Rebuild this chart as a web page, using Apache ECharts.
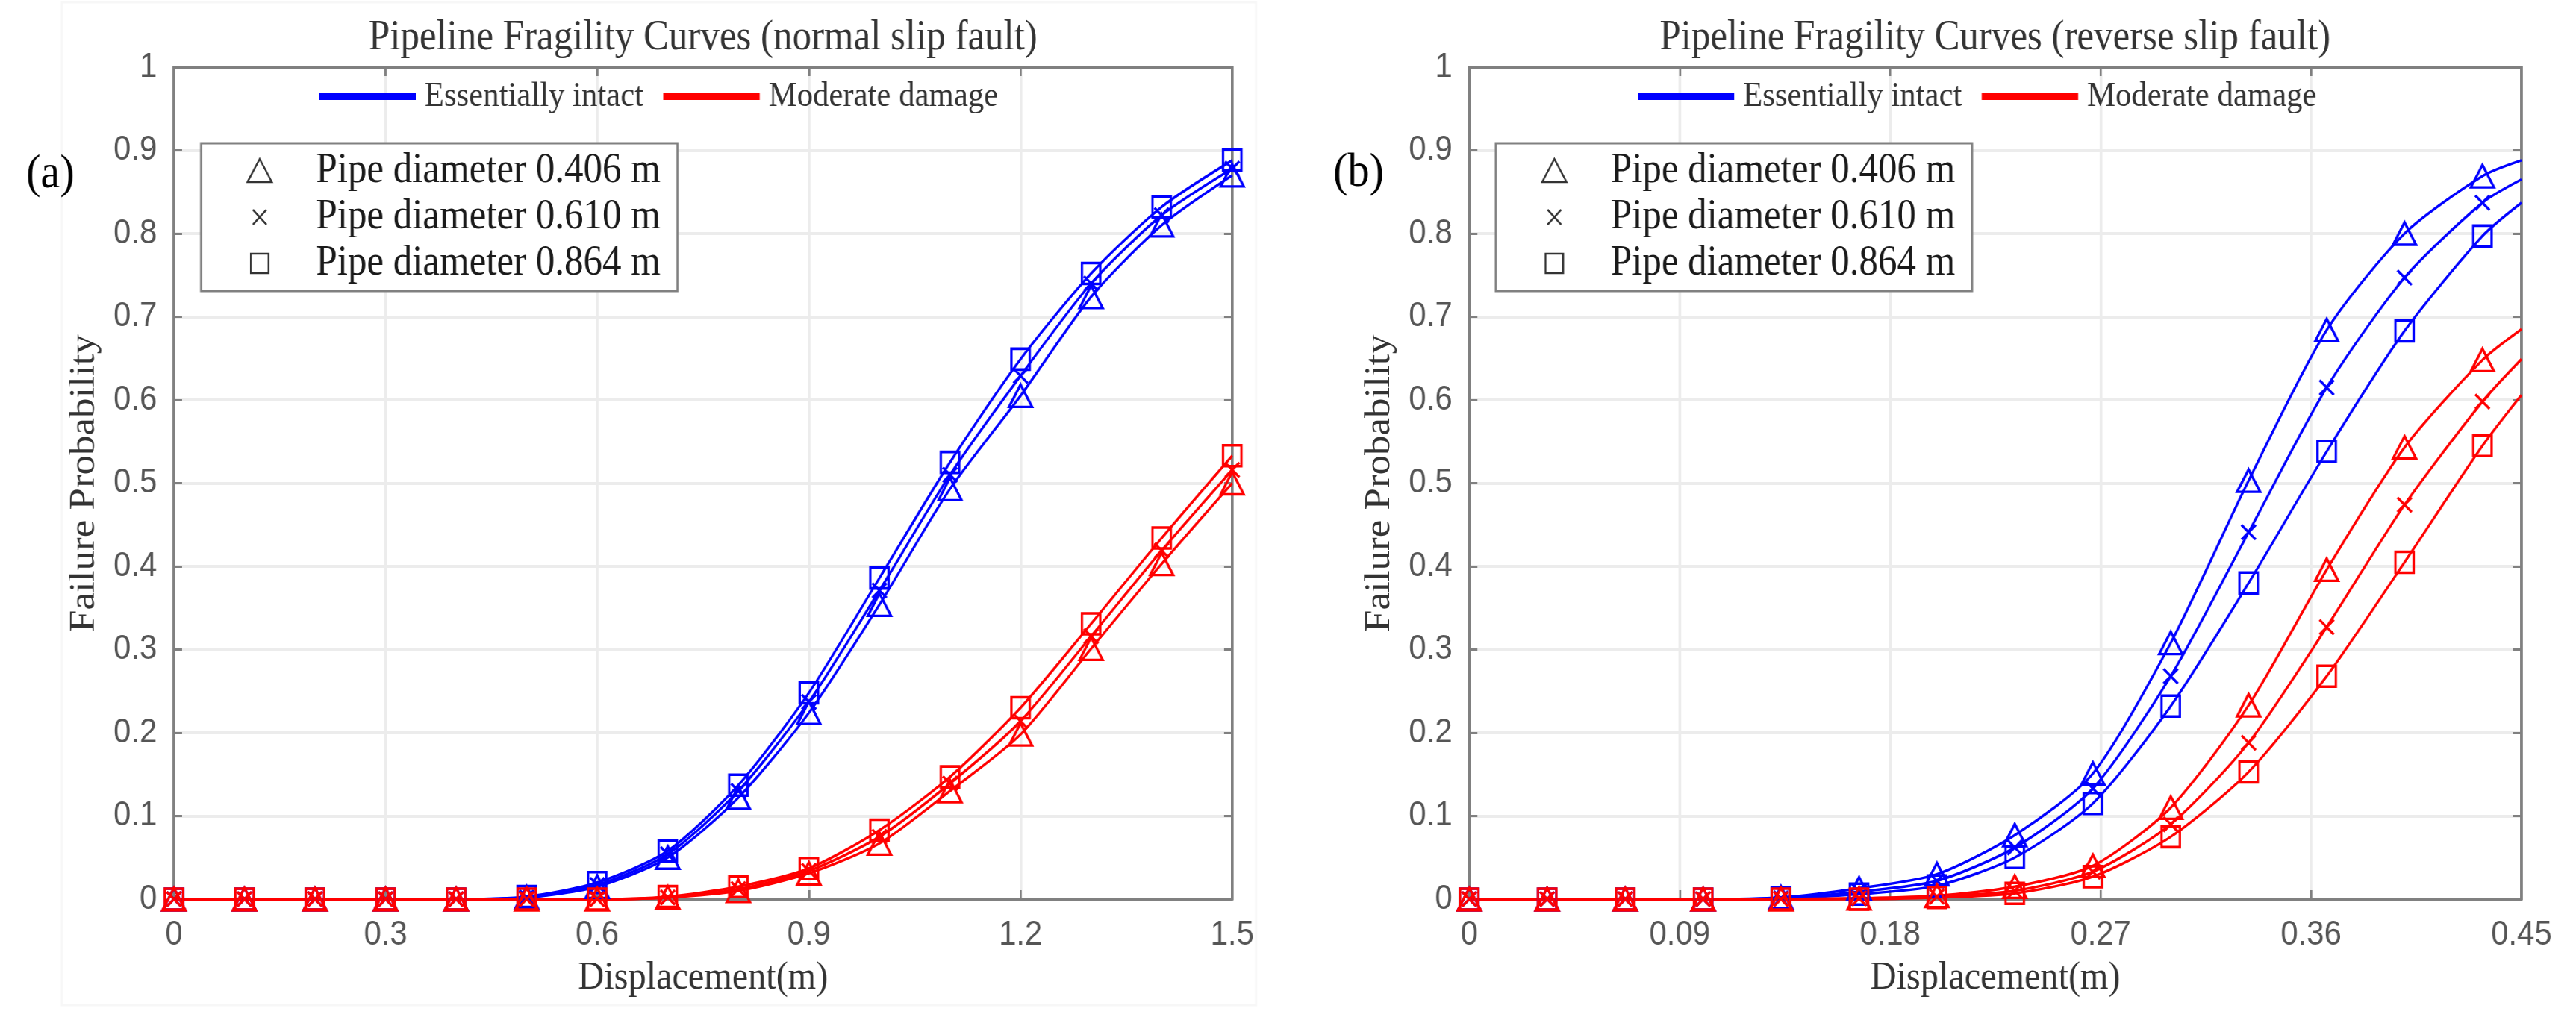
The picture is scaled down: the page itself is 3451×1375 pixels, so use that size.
<!DOCTYPE html>
<html>
<head>
<meta charset="utf-8">
<title>Pipeline Fragility Curves</title>
<script src="https://cdn.jsdelivr.net/npm/echarts@6/dist/echarts.min.js"></script>
<style>
html, body { margin: 0; padding: 0; background: #fff; overflow: hidden; }
/* the source figure is a little narrower than its height suggests, so squeeze it */
#main { width: 3792px; height: 1375px; transform: scaleX(0.91); transform-origin: 0 0; }
</style>
</head>
<body>
<div id="main"></div>
<script>
// ---- data ----
var xA = [0, 0.1, 0.2, 0.3, 0.4, 0.5, 0.6, 0.7, 0.8, 0.9, 1.0, 1.1, 1.2, 1.3, 1.4, 1.5];
var aIntact406 = [0, 0, 0, 0, 0, 0.002, 0.015, 0.050, 0.122, 0.224, 0.354, 0.493, 0.605, 0.724, 0.810, 0.870];
var aIntact610 = [0, 0, 0, 0, 0, 0.002, 0.017, 0.054, 0.130, 0.237, 0.371, 0.510, 0.629, 0.740, 0.822, 0.878];
var aIntact864 = [0, 0, 0, 0, 0, 0.003, 0.020, 0.058, 0.137, 0.248, 0.386, 0.525, 0.649, 0.752, 0.832, 0.888];
var aModerate406 = [0, 0, 0, 0, 0, 0, 0, 0.002, 0.010, 0.031, 0.067, 0.130, 0.198, 0.301, 0.403, 0.500];
var aModerate610 = [0, 0, 0, 0, 0, 0, 0, 0.002, 0.012, 0.034, 0.075, 0.139, 0.214, 0.316, 0.419, 0.516];
var aModerate864 = [0, 0, 0, 0, 0, 0, 0, 0.003, 0.015, 0.037, 0.083, 0.147, 0.230, 0.331, 0.434, 0.533];

// last x of panel (b) is the axis end, the curve goes on there without a marker
var xB = [0, 0.0333, 0.0667, 0.1, 0.1333, 0.1667, 0.2, 0.2333, 0.2667, 0.3, 0.3333, 0.3667, 0.4, 0.4333, 0.45];
var bIntact406 = [0, 0, 0, 0, 0.002, 0.013, 0.030, 0.077, 0.151, 0.308, 0.503, 0.684, 0.800, 0.869, 0.888];
var bIntact610 = [0, 0, 0, 0, 0.001, 0.009, 0.022, 0.062, 0.133, 0.268, 0.441, 0.615, 0.747, 0.837, 0.865];
var bIntact864 = [0, 0, 0, 0, 0.001, 0.006, 0.016, 0.050, 0.115, 0.232, 0.380, 0.538, 0.683, 0.797, 0.837];
var bModerate406 = [0, 0, 0, 0, 0, 0.001, 0.004, 0.015, 0.040, 0.110, 0.233, 0.396, 0.543, 0.648, 0.685];
var bModerate610 = [0, 0, 0, 0, 0, 0.001, 0.003, 0.010, 0.033, 0.090, 0.188, 0.327, 0.474, 0.598, 0.649];
var bModerate864 = [0, 0, 0, 0, 0, 0, 0.002, 0.007, 0.027, 0.075, 0.153, 0.268, 0.405, 0.545, 0.606];

var yTicks = ['0', '0.1', '0.2', '0.3', '0.4', '0.5', '0.6', '0.7', '0.8', '0.9', '1'];
var xTicksA = ['0', '0.3', '0.6', '0.9', '1.2', '1.5'];
var xTicksB = ['0', '0.09', '0.18', '0.27', '0.36', '0.45'];

var stateNames = ['Essentially intact', 'Moderate damage'];
var pipeNames = ['Pipe diameter 0.406 m', 'Pipe diameter 0.610 m', 'Pipe diameter 0.864 m'];
var titles = ['Pipeline Fragility Curves (normal slip fault)', 'Pipeline Fragility Curves (reverse slip fault)'];

// ---- styles ----
var serif = "'Liberation Serif', 'Times New Roman', serif";
var sans = "'Liberation Sans', Arial, sans-serif";
var blue = '#0000ff';
var red = '#ff0000';
var axisGray = '#808080';
var gridGray = '#ececec';

var symbols = ['triangle', 'path://M0,0M10,10M1.5,1.5L8.5,8.5M8.5,1.5L1.5,8.5', 'rect'];
var symbolSizes = [[34, 30], [30, 28], [27, 28]];
// legend icons carry their own padding so the marker sits where the figure has it
var pipeIcons = [
    'path://M0,0M143,34M47,32L65,1L83,32Z',
    'path://M0,0M143,34M55,7L75,27M75,7L55,27',
    'path://M0,0M143,34M52,4L78,4L78,30L52,30Z'
];
var barIcon = 'path://M150,9M0,0L142,0L142,9L0,9Z';

var myChart = echarts.init(document.getElementById('main'));

function curve(name, xs, ys, color, k, grid) {
    var data = [];
    for (var i = 0; i < xs.length; i++) {
        var p = {value: [xs[i], ys[i]]};
        if (grid == 1 && i == xs.length - 1) p.symbol = 'none';
        data.push(p);
    }
    return {
        name: name,
        type: 'line',
        xAxisIndex: grid * 2,
        yAxisIndex: grid * 2,
        data: data,
        smooth: 0.25,
        clip: false,
        symbol: symbols[k],
        symbolSize: symbolSizes[k],
        lineStyle: {color: color, width: 3.5},
        itemStyle: {color: 'transparent', borderColor: color, borderWidth: 3.5},
        emphasis: {disabled: true}
    };
}

function xAx(grid, pos, max, interval, labels) {
    var main = pos == 'bottom';
    return {
        type: 'value', gridIndex: grid, position: pos,
        min: 0, max: max, interval: interval,
        axisLine: {show: true, onZero: false, lineStyle: {color: axisGray, width: 4}},
        axisTick: {show: true, inside: true, length: 12, lineStyle: {color: axisGray, width: 3}},
        axisLabel: {
            show: main, margin: 25, fontFamily: sans, fontSize: 46, color: '#555',
            formatter: function (v, i) { return labels[i]; }
        },
        splitLine: {show: main, lineStyle: {color: gridGray, width: 4}},
        name: main ? 'Displacement(m)' : '',
        nameLocation: 'middle', nameGap: 80,
        nameTextStyle: {fontFamily: serif, fontSize: 53, color: '#333'}
    };
}

function yAx(grid, pos) {
    var main = pos == 'left';
    return {
        type: 'value', gridIndex: grid, position: pos,
        min: 0, max: 1, interval: 0.1,
        axisLine: {show: true, onZero: false, lineStyle: {color: axisGray, width: 4}},
        axisTick: {show: true, inside: true, length: 12, lineStyle: {color: axisGray, width: 3}},
        axisLabel: {
            show: main, margin: 25, fontFamily: sans, fontSize: 46, color: '#555',
            formatter: function (v, i) { return yTicks[i]; }
        },
        splitLine: {show: main, lineStyle: {color: gridGray, width: 4}},
        name: main ? 'Failure Probability' : '',
        nameLocation: 'middle', nameGap: 105,
        nameTextStyle: {fontFamily: serif, fontSize: 53, color: '#333'}
    };
}

function stateLegend(left) {
    return {
        left: left, top: 106, orient: 'horizontal', padding: 0, itemGap: 29,
        itemWidth: 150, itemHeight: 9, selectedMode: false,
        textStyle: {fontFamily: serif, fontSize: 47, color: '#333', lineHeight: 47},
        data: [
            {name: stateNames[0], icon: barIcon, itemStyle: {color: blue, borderWidth: 0}},
            {name: stateNames[1], icon: barIcon, itemStyle: {color: red, borderWidth: 0}}
        ]
    };
}

function pipeLegend(left) {
    var items = [];
    for (var i = 0; i < pipeNames.length; i++) {
        items.push({
            name: pipeNames[i], icon: pipeIcons[i],
            itemStyle: {color: 'transparent', borderColor: '#333', borderWidth: 2.5}
        });
    }
    return {
        left: left, top: 192, orient: 'vertical', padding: [9, 25, 9, 20], itemGap: 6,
        itemWidth: 143, itemHeight: 34, selectedMode: false,
        backgroundColor: '#fff', borderColor: axisGray, borderWidth: 3,
        textStyle: {fontFamily: serif, fontSize: 56, color: '#1a1a1a', lineHeight: 56},
        data: items
    };
}

var series = [
    curve(stateNames[0], xA, aIntact406, blue, 0, 0),
    curve(stateNames[0], xA, aIntact610, blue, 1, 0),
    curve(stateNames[0], xA, aIntact864, blue, 2, 0),
    curve(stateNames[1], xA, aModerate406, red, 0, 0),
    curve(stateNames[1], xA, aModerate610, red, 1, 0),
    curve(stateNames[1], xA, aModerate864, red, 2, 0),
    curve(stateNames[0], xB, bIntact406, blue, 0, 1),
    curve(stateNames[0], xB, bIntact610, blue, 1, 1),
    curve(stateNames[0], xB, bIntact864, blue, 2, 1),
    curve(stateNames[1], xB, bModerate406, red, 0, 1),
    curve(stateNames[1], xB, bModerate610, red, 1, 1),
    curve(stateNames[1], xB, bModerate864, red, 2, 1)
];
// empty series only so the marker legend has something to point at
pipeNames.forEach(function (n) {
    series.push({name: n, type: 'line', xAxisIndex: 0, yAxisIndex: 0, data: []});
});
// the extra top/right axes need a series each to be drawn with ticks
series.push({type: 'line', xAxisIndex: 1, yAxisIndex: 1, data: []});
series.push({type: 'line', xAxisIndex: 3, yAxisIndex: 3, data: []});

var titleStyle = {fontFamily: serif, fontSize: 56, fontWeight: 'normal', color: '#333'};
var letterStyle = {fontFamily: serif, fontSize: 64, fontWeight: 'normal', color: '#000'};

var option = {
    backgroundColor: '#fff',
    animation: false,
    title: [
        {text: titles[0], left: 1035, top: 23, textAlign: 'center', padding: 0, textStyle: titleStyle},
        {text: titles[1], left: 2937, top: 23, textAlign: 'center', padding: 0, textStyle: titleStyle},
        {text: '(a)', left: 74, top: 202, textAlign: 'center', padding: 0, textStyle: letterStyle},
        {text: '(b)', left: 2000, top: 200, textAlign: 'center', padding: 0, textStyle: letterStyle}
    ],
    graphic: [{
        type: 'rect', z: -10, silent: true,
        shape: {x: 91, y: 3, width: 1758, height: 1344},
        style: {fill: 'none', stroke: '#f7f7f7', lineWidth: 3}
    }],
    legend: [stateLegend(470), pipeLegend(296), stateLegend(2411), pipeLegend(2202)],
    grid: [
        {left: 256, top: 90, width: 1558, height: 1115},
        {left: 2163, top: 90, width: 1549, height: 1115}
    ],
    xAxis: [
        xAx(0, 'bottom', 1.5, 0.3, xTicksA),
        xAx(0, 'top', 1.5, 0.3, xTicksA),
        xAx(1, 'bottom', 0.45, 0.09, xTicksB),
        xAx(1, 'top', 0.45, 0.09, xTicksB)
    ],
    yAxis: [yAx(0, 'left'), yAx(0, 'right'), yAx(1, 'left'), yAx(1, 'right')],
    series: series
};

myChart.setOption(option);
</script>
</body>
</html>
